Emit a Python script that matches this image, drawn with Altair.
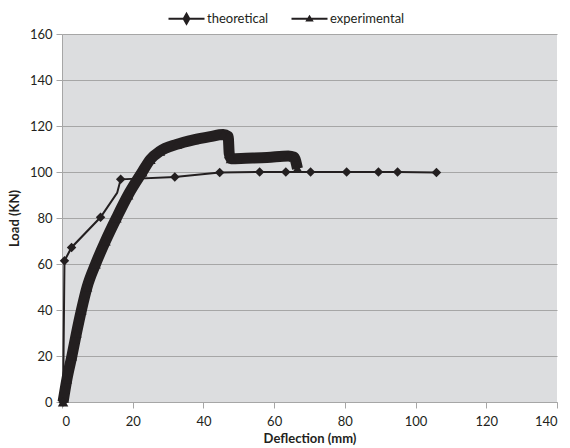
import altair as alt
import pandas as pd

# ---- data ----
series_names = ["theoretical", "experimental"]

theo_x = [0.3, 0.7, 2.7, 10.9, 15.6, 16.6, 31.9, 44.6, 55.9, 63.3, 70.3, 80.5, 89.5, 94.9, 105.9]
theo_y = [0.0, 61.4, 67.2, 80.3, 90.9, 96.8, 97.8, 99.8, 100.0, 100.0, 100.0, 100.0, 100.0, 100.0, 99.8]
theo_marker = [True, True, True, True, False, True, True, True, True, True, True, True, True, True, True]

exp_x = [0.3, 1.4, 2.8, 4.1, 5.5, 7.1, 9.5, 12.3, 15.4, 18.7, 22.7, 25.0, 27.7, 32.4, 37.2,
         41.9, 45.6, 47.0, 47.3, 47.8, 52.0, 58.0, 64.0, 65.6, 66.6]
exp_y = [0.0, 10.0, 20.0, 30.0, 40.0, 50.0, 60.0, 70.0, 80.0, 90.0, 100.0, 105.5, 109.0, 112.0, 114.0,
         115.4, 116.3, 115.5, 108.0, 105.8, 106.0, 106.3, 107.0, 106.5, 101.5]

x_ticks = [0, 20, 40, 60, 80, 100, 120, 140]
y_ticks = [0, 20, 40, 60, 80, 100, 120, 140, 160]

BLACK = "#231F20"
GRID = "#A6A6A6"
FONT = "Lato"

theo = pd.DataFrame({"x": theo_x, "y": theo_y, "m": theo_marker,
                     "s": series_names[0], "i": range(len(theo_x))})
expd = pd.DataFrame({"x": exp_x, "y": exp_y, "s": series_names[1], "i": range(len(exp_x))})
both = pd.concat([theo[["x", "y", "s"]], expd[["x", "y", "s"]]], ignore_index=True)

X = alt.X("x:Q", scale=alt.Scale(domain=[0, 140], nice=False),
          axis=alt.Axis(values=x_ticks, title="Deflection (mm)", grid=False))
Y = alt.Y("y:Q", scale=alt.Scale(domain=[0, 160], nice=False),
          axis=alt.Axis(values=y_ticks, title="Load (KN)", grid=True))

exp_line = alt.Chart(expd).mark_line(color=BLACK, strokeWidth=11, strokeJoin="round",
                                     interpolate="monotone",
                                     strokeCap="butt").encode(X, Y, order="i:Q")
exp_pts = alt.Chart(expd).mark_point(shape="triangle-up", filled=True, color=BLACK,
                                     opacity=1, size=110).encode(X, Y)

theo_line = alt.Chart(theo).mark_line(color=BLACK, strokeWidth=2).encode(X, Y, order="i:Q")
theo_pts = alt.Chart(theo).transform_filter("datum.m").mark_point(
    shape="diamond", filled=True, color=BLACK, opacity=1, size=90).encode(X, Y)

# legend glyphs: a short line with the series marker on it (all filled, same winding)
legend_paths = [
    "M-3.6,-0.2H3.6V0.2H-3.6Z M0,-1.4L0.8,0L0,1.4L-0.8,0Z",
    "M-3.6,-0.2H3.6V0.2H-3.6Z M0,-0.8L0.85,0.55L-0.85,0.55Z",
]
legend_layer = alt.Chart(both).mark_point(
    filled=True, color=BLACK, opacity=0, size=100).encode(
    X, Y,
    shape=alt.Shape("s:N", scale=alt.Scale(domain=series_names, range=legend_paths),
                    legend=alt.Legend(title=None, orient="none", direction="horizontal",
                                      legendX=118, legendY=-22, padding=0,
                                      symbolSize=100, symbolFillColor=BLACK,
                                      symbolStrokeColor=BLACK, symbolStrokeWidth=0,
                                      symbolOpacity=1, labelOffset=14, columnPadding=22,
                                      labelFont=FONT, labelFontSize=13, labelColor=BLACK)),
)

chart = alt.layer(legend_layer, theo_line, exp_line, exp_pts, theo_pts).properties(
    width=495, height=368,
    autosize=alt.AutoSizeParams(type="none"),
    padding={"left": 62, "top": 34, "right": 13, "bottom": 46},
    background="white",
).configure_view(fill="#DCDDDF", stroke=None).configure_axis(
    labelFont=FONT, labelFontSize=13, labelColor=BLACK,
    titleFont=FONT, titleFontSize=13, titleFontWeight="bold", titleColor=BLACK,
    domainColor=GRID, tickColor=GRID, gridColor=GRID, gridWidth=1.2,
    tickSize=6,
).configure_axisX(labelPadding=7, titlePadding=4).configure_axisY(labelPadding=4, titlePadding=8)

chart.save("out.html", embed_options={"renderer": "svg", "actions": False})
